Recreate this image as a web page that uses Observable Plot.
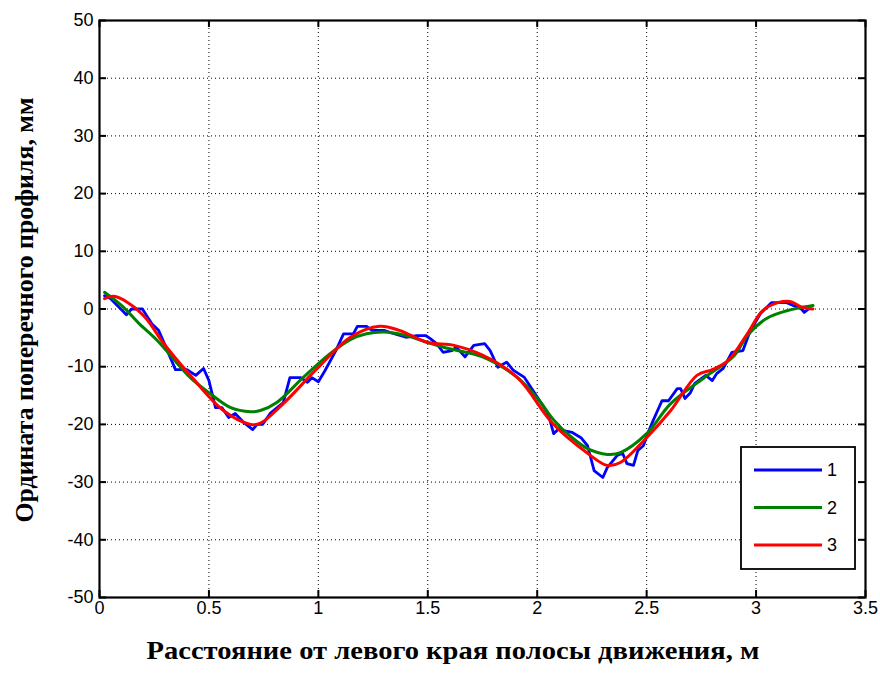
<!DOCTYPE html>
<html><head><meta charset="utf-8">
<script src="https://cdn.jsdelivr.net/npm/d3@7"></script>
<script src="https://cdn.jsdelivr.net/npm/@observablehq/plot@0.6"></script>
<style>body{margin:0;background:#fff}</style>
</head><body><div id="chart"></div>
<script>
const xTicks = [0, 0.5, 1, 1.5, 2, 2.5, 3, 3.5];
const yTicks = [-50, -40, -30, -20, -10, 0, 10, 20, 30, 40, 50];
const seriesNames = ["1", "2", "3"];
const seriesColors = ["#0000ff", "#008000", "#ff0000"];

const blueX = [0.023,0.05,0.123,0.146,0.196,0.24,0.27,0.30,0.347,0.40,0.44,0.475,0.50,0.53,0.56,0.59,0.62,0.66,0.70,0.72,0.745,0.78,0.84,0.87,0.92,0.95,0.97,1.00,1.03,1.08,1.115,1.16,1.178,1.22,1.245,1.30,1.33,1.40,1.45,1.49,1.51,1.54,1.57,1.61,1.63,1.67,1.71,1.76,1.785,1.82,1.86,1.89,1.94,1.98,2.01,2.045,2.06,2.075,2.10,2.12,2.16,2.20,2.23,2.26,2.30,2.32,2.365,2.39,2.41,2.44,2.46,2.485,2.51,2.53,2.57,2.60,2.64,2.655,2.675,2.70,2.72,2.77,2.80,2.82,2.85,2.89,2.94,2.97,3.02,3.07,3.14,3.17,3.20,3.22,3.24];
const blueY = [2.3,1.8,-1.0,0,0,-2.6,-3.7,-6.3,-10.5,-10.5,-11.5,-10.3,-12.4,-17.1,-17.1,-18.8,-18.1,-19.7,-20.9,-20.0,-20.0,-18.1,-16.2,-11.9,-11.9,-12.7,-11.9,-12.6,-10.7,-7.2,-4.3,-4.3,-3.0,-3.0,-3.7,-3.7,-4.1,-4.9,-4.6,-4.6,-5.1,-6.0,-7.5,-7.2,-6.6,-8.3,-6.3,-6.0,-7.2,-10.1,-9.2,-10.6,-11.8,-14.1,-15.8,-17.9,-19.5,-21.6,-20.7,-21.1,-21.4,-22.3,-23.7,-28.0,-29.2,-27.5,-25.4,-25.0,-26.8,-27.1,-24.5,-23.7,-21.1,-19.3,-15.9,-15.9,-13.8,-13.8,-15.5,-14.5,-12.9,-11.5,-12.4,-11.2,-10.3,-7.5,-7.2,-4.1,-0.8,1.1,1.1,0.6,0.3,-0.6,0];

const greenX = [0.023,0.11,0.18,0.265,0.415,0.507,0.60,0.69,0.735,0.81,0.93,1.055,1.146,1.22,1.30,1.40,1.50,1.60,1.75,1.91,2.01,2.07,2.15,2.23,2.32,2.38,2.50,2.61,2.76,2.90,2.96,3.05,3.14,3.20,3.26];
const greenY = [2.9,0.3,-2.5,-5.5,-11.9,-14.7,-17.1,-17.8,-17.6,-16.2,-11.9,-7.7,-5.3,-4.3,-4.0,-4.6,-5.8,-6.9,-8.3,-11.9,-15.9,-19.0,-22.0,-24.2,-25.2,-24.9,-21.6,-16.4,-12.0,-8.1,-4.6,-1.6,-0.3,0.2,0.6];

const redX = [0.023,0.064,0.13,0.21,0.29,0.415,0.566,0.69,0.735,0.84,0.995,1.146,1.28,1.37,1.50,1.62,1.75,1.91,2.07,2.23,2.32,2.38,2.50,2.61,2.73,2.80,2.87,2.96,3.03,3.10,3.155,3.21,3.26];
const redY = [1.8,2.2,1.1,-1.5,-5.8,-11.5,-17.6,-20.0,-19.8,-16.4,-10.3,-4.9,-3.0,-3.7,-5.8,-6.3,-8.0,-11.9,-19.8,-25.0,-27.1,-26.6,-22.3,-17.6,-11.5,-10.5,-9.0,-4.3,-0.3,1.1,1.3,0.3,0];

const toRows = (xs, ys) => xs.map((x, i) => ({x, y: ys[i]}));
const blue = toRows(blueX, blueY), green = toRows(greenX, greenY), red = toRows(redX, redY);

const W = 880, H = 687, mL = 99, mR = 15, mT = 20, mB = 90;
const pw = W - mL - mR, ph = H - mT - mB, tk = 7;
const grid = {stroke: "#000", strokeOpacity: 1, strokeWidth: 1, strokeDasharray: "1,3"};
const sans = "'Liberation Sans', Arial, sans-serif";

const chart = Plot.plot({
  width: W, height: H,
  marginLeft: mL, marginRight: mR, marginTop: mT, marginBottom: mB,
  style: {fontFamily: sans, background: "#fff", color: "#000"},
  x: {domain: [0, 3.5], label: null},
  y: {domain: [-50, 50], label: null},
  marks: [
    Plot.gridX(xTicks, grid),
    Plot.gridY(yTicks, grid),
    Plot.line(blue, {x: "x", y: "y", stroke: seriesColors[0], strokeWidth: 2.8}),
    Plot.line(green, {x: "x", y: "y", stroke: seriesColors[1], strokeWidth: 3, curve: "catmull-rom"}),
    Plot.line(red, {x: "x", y: "y", stroke: seriesColors[2], strokeWidth: 3, curve: "catmull-rom"}),
    Plot.tickX(xTicks, {x: d => d, insetTop: ph - tk, stroke: "#000", strokeWidth: 2}),
    Plot.tickX(xTicks, {x: d => d, insetBottom: ph - tk, stroke: "#000", strokeWidth: 2}),
    Plot.tickY(yTicks, {y: d => d, insetRight: pw - tk, stroke: "#000", strokeWidth: 2}),
    Plot.tickY(yTicks, {y: d => d, insetLeft: pw - tk, stroke: "#000", strokeWidth: 2}),
    Plot.axisX(xTicks, {tickSize: 0, tickPadding: 4, fontSize: 18, fontFamily: sans, fill: "#000", tickFormat: d => String(d), label: null}),
    Plot.axisY(yTicks, {tickSize: 0, tickPadding: 6, fontSize: 18, fontFamily: sans, fill: "#000", tickFormat: d => String(d), label: null}),
    Plot.frame({stroke: "#000", strokeWidth: 2.2})
  ]
});

const svg = d3.select(chart);
svg.append("text")
  .attr("x", 453).attr("y", 659)
  .attr("text-anchor", "middle")
  .attr("font-family", "'Liberation Serif', 'Times New Roman', serif")
  .attr("font-weight", "bold").attr("font-size", 25)
  .attr("textLength", 613).attr("lengthAdjust", "spacingAndGlyphs")
  .attr("fill", "#000")
  .text("Расстояние от левого края полосы движения, м");
svg.append("text")
  .attr("transform", "translate(33,310) rotate(-90)")
  .attr("text-anchor", "middle")
  .attr("font-family", "'Liberation Serif', 'Times New Roman', serif")
  .attr("font-weight", "bold").attr("font-size", 25)
  .attr("textLength", 425).attr("lengthAdjust", "spacingAndGlyphs")
  .attr("fill", "#000")
  .text("Ордината поперечного профиля, мм");

const lg = svg.append("g");
lg.append("rect").attr("x", 741).attr("y", 447).attr("width", 114).attr("height", 122)
  .attr("fill", "#fff").attr("stroke", "#000").attr("stroke-width", 1.8);
seriesNames.forEach((n, i) => {
  const yy = 470 + i * 37.5;
  lg.append("line").attr("x1", 754).attr("x2", 822).attr("y1", yy).attr("y2", yy)
    .attr("stroke", seriesColors[i]).attr("stroke-width", 2.8);
  lg.append("text").attr("x", 832).attr("y", yy).attr("dy", "0.35em")
    .attr("font-family", sans).attr("font-size", 18)
    .attr("fill", "#000").text(n);
});

document.getElementById("chart").appendChild(chart);
</script>
</body></html>
